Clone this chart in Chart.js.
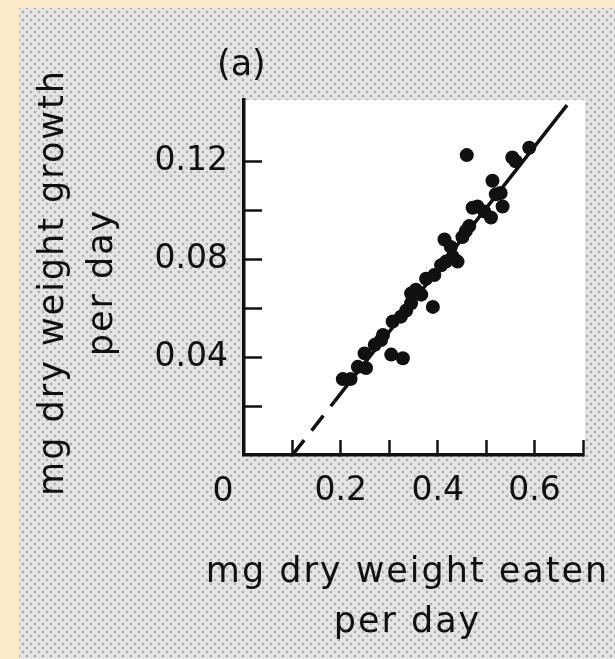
<!DOCTYPE html>
<html>
<head>
<meta charset="utf-8">
<script src="https://cdn.jsdelivr.net/npm/chart.js@4.4.1/dist/chart.umd.min.js"></script>
<style>
  html, body { margin: 0; padding: 0; }
  body { width: 615px; height: 659px; background: #fcebcb; position: relative; overflow: hidden; }
  #panel {
    position: absolute; left: 19px; top: 8px; right: 0; bottom: 0;
    background-color: #e4e4e4;
    background-image: radial-gradient(circle, rgba(105,105,105,0.45) 1px, transparent 1.7px),
                      radial-gradient(circle, rgba(105,105,105,0.45) 1px, transparent 1.7px);
    background-size: 8px 8px;
    background-position: 0 0, 4px 4px;
  }
  #wrap { position: absolute; left: 0; top: 0; width: 615px; height: 659px; }
</style>
</head>
<body>
<div id="panel"></div>
<div id="wrap"><canvas id="growthChart"></canvas></div>
<script>
// valores (a)
const eatenX = [0.204, 0.22, 0.235, 0.252, 0.249, 0.27, 0.283, 0.287, 0.304, 0.328,
                0.307, 0.324, 0.335, 0.345, 0.345, 0.355, 0.366, 0.39, 0.376, 0.393,
                0.407, 0.417, 0.431, 0.441, 0.414, 0.427, 0.451, 0.458, 0.465, 0.472,
                0.482, 0.496, 0.51, 0.513, 0.52, 0.53, 0.534, 0.554, 0.561, 0.589, 0.46];
const growthY = [0.031, 0.031, 0.036, 0.0355, 0.0415, 0.045, 0.047, 0.049, 0.041, 0.0395,
                 0.0545, 0.0565, 0.059, 0.062, 0.066, 0.0675, 0.0655, 0.0605, 0.072, 0.0735,
                 0.0775, 0.079, 0.081, 0.079, 0.088, 0.085, 0.089, 0.0915, 0.0935, 0.101,
                 0.1015, 0.0995, 0.097, 0.112, 0.1065, 0.107, 0.1015, 0.1215, 0.12, 0.1255, 0.1225];

// recta ajustada: parte extrapolada (tracejada) e parte observada
const fitDashedX = [0.1, 0.187];
const fitDashedY = [0, 0.0219];
const fitSolidX = [0.187, 0.667];
const fitSolidY = [0.0219, 0.1429];

const xTickLabels = [0.2, 0.4, 0.6];
const yTickLabels = [0.04, 0.08, 0.12];

const xTitle = ['mg dry weight eaten', 'per day'];
const yTitle = ['mg dry weight growth', 'per day'];

const ink = '#111111';
const fontFamily = '"DejaVu Sans", sans-serif';

function toPoints(xs, ys) {
    return xs.map((x, i) => ({ x: x, y: ys[i] }));
}

function isLabelled(list, value) {
    return list.some(v => Math.abs(v - value) < 1e-6);
}

// fundo branco, "(a)", o "0" da origem e os títulos dos eixos
// (os títulos são mais largos que a área do gráfico, por isso não usam o title do Chart.js)
const panelExtras = {
    id: 'panelExtras',
    beforeDraw(chart) {
        const { ctx, chartArea } = chart;
        ctx.save();
        ctx.fillStyle = '#ffffff';
        ctx.fillRect(chartArea.left, chartArea.top, chartArea.right - chartArea.left + 2, chartArea.bottom - chartArea.top);
        ctx.restore();
    },
    afterDraw(chart) {
        const { ctx, chartArea, scales } = chart;
        ctx.save();
        ctx.fillStyle = ink;
        ctx.textBaseline = 'middle';
        ctx.font = '35px ' + fontFamily;
        ctx.textAlign = 'left';
        ctx.fillText('(a)', chartArea.left - 27, chartArea.top - 34);
        ctx.font = '33px ' + fontFamily;
        ctx.textAlign = 'center';
        ctx.fillText('0', scales.x.getPixelForValue(0) - 21, chartArea.bottom + 37);

        ctx.font = '35px ' + fontFamily;
        ctx.letterSpacing = '2px';
        ctx.textBaseline = 'alphabetic';
        const cx = (chartArea.left + chartArea.right) / 2 - 6;
        xTitle.forEach((line, i) => {
            ctx.fillText(line, cx, chartArea.bottom + 127 + i * 50);
        });
        ctx.translate(chartArea.left, (chartArea.top + chartArea.bottom) / 2 + 5);
        ctx.rotate(-Math.PI / 2);
        yTitle.forEach((line, i) => {
            ctx.fillText(line, 0, -181 + i * 49);
        });
        ctx.restore();
    }
};

document.addEventListener('DOMContentLoaded', function() {
    const ctx = document.getElementById('growthChart').getContext('2d');
    new Chart(ctx, {
        type: 'scatter',
        data: {
            datasets: [
                {
                    data: toPoints(eatenX, growthY),
                    backgroundColor: ink,
                    borderColor: ink,
                    pointRadius: 7,
                    pointBorderWidth: 0
                },
                {
                    data: toPoints(fitDashedX, fitDashedY),
                    showLine: true,
                    borderColor: ink,
                    borderWidth: 3.5,
                    borderDash: [19, 12],
                    pointRadius: 0
                },
                {
                    data: toPoints(fitSolidX, fitSolidY),
                    showLine: true,
                    borderColor: ink,
                    borderWidth: 3.5,
                    pointRadius: 0
                }
            ]
        },
        options: {
            responsive: true,
            maintainAspectRatio: false,
            animation: false,
            layout: { padding: { left: 19, top: 100, right: 30, bottom: 0 } },
            plugins: {
                legend: { display: false },
                tooltip: { enabled: false }
            },
            scales: {
                x: {
                    type: 'linear',
                    min: 0,
                    max: 0.7,
                    afterFit: function(scale) { scale.height = 204; },
                    afterBuildTicks: function(scale) {
                        scale.ticks = scale.ticks.filter(t => t.value > 0.05);
                    },
                    border: { display: true, color: ink, width: 3.5 },
                    grid: {
                        drawOnChartArea: false,
                        drawTicks: true,
                        tickLength: -15,
                        tickColor: ink,
                        tickWidth: 2.5
                    },
                    ticks: {
                        stepSize: 0.1,
                        padding: 32,
                        color: ink,
                        maxRotation: 0,
                        autoSkip: false,
                        font: { family: fontFamily, size: 33 },
                        callback: function(value) {
                            return isLabelled(xTickLabels, value) ? value.toFixed(1) : '';
                        }
                    }
                },
                y: {
                    type: 'linear',
                    min: 0,
                    max: 0.145,
                    afterFit: function(scale) { scale.width = 225; },
                    afterBuildTicks: function(scale) {
                        scale.ticks = scale.ticks.filter(t => t.value > 0.01 && t.value < 0.125);
                    },
                    border: { display: true, color: ink, width: 3.5 },
                    grid: {
                        drawOnChartArea: false,
                        drawTicks: true,
                        tickLength: -18,
                        tickColor: ink,
                        tickWidth: 2.5
                    },
                    ticks: {
                        stepSize: 0.02,
                        padding: 34,
                        color: ink,
                        autoSkip: false,
                        font: { family: fontFamily, size: 33 },
                        callback: function(value) {
                            return isLabelled(yTickLabels, value) ? value.toFixed(2) : '';
                        }
                    }
                }
            }
        },
        plugins: [panelExtras]
    });
});
</script>
</body>
</html>
